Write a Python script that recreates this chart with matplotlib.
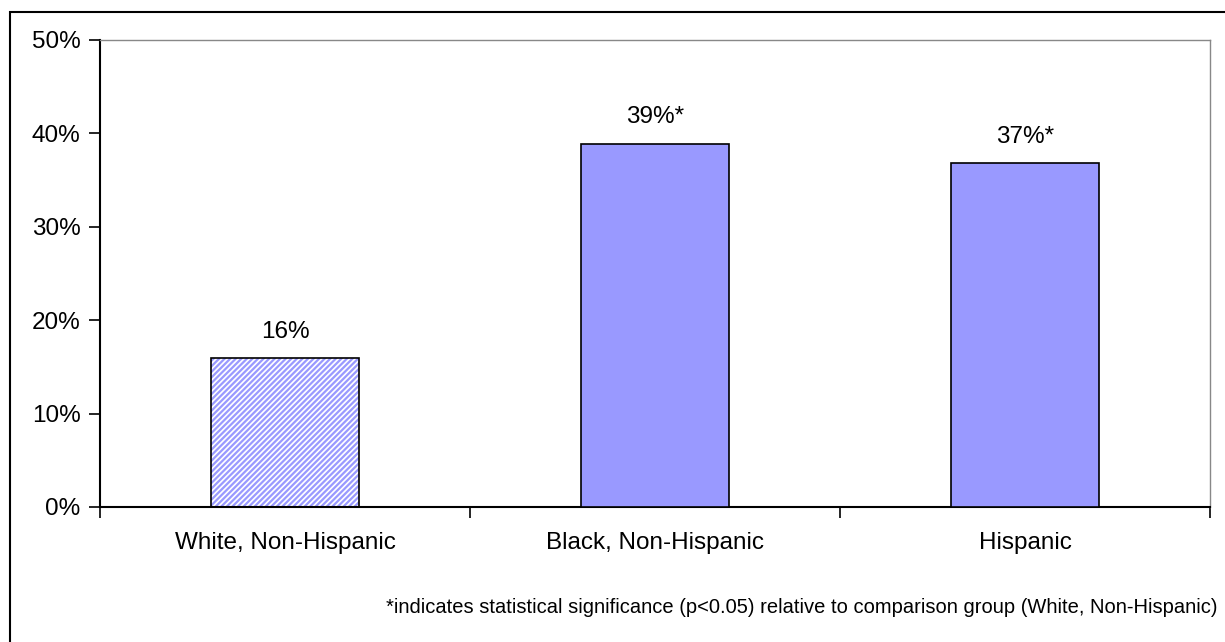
import numpy as np
import matplotlib.pyplot as plt
from matplotlib.patches import Rectangle

plt.rcParams['font.family'] = ['Liberation Sans', 'DejaVu Sans']
plt.rcParams['hatch.linewidth'] = 1.6

groups = ['White, Non-Hispanic', 'Black, Non-Hispanic', 'Hispanic']
pct = [15.9, 38.9, 36.8]
labels = ['16%', '39%*', '37%*']
note = '*indicates statistical significance (p<0.05) relative to comparison group (White, Non-Hispanic)'

bar_col = '#9999FF'

fig = plt.figure(figsize=(12.25, 6.42), dpi=100)
ax = fig.add_axes([0.0816, 0.2103, 0.9062, 0.7274])

x = np.arange(len(groups))
w = 0.4
# comparison group is hatched, the others solid
ax.bar(x[0], pct[0], w, color='white', edgecolor=bar_col, hatch='//////', linewidth=0, zorder=2)
ax.bar(x[0], pct[0], w, fill=False, edgecolor='black', linewidth=1.2, zorder=3)
ax.bar(x[1:], pct[1:], w, color=bar_col, edgecolor='black', linewidth=1.2, zorder=3)

for xi, v, t in zip(x, pct, labels):
    ax.annotate(t, (xi, v), xytext=(0, 11), textcoords='offset points',
                ha='center', va='bottom', fontsize=17.5)

ax.set_xlim(-0.5, 2.5)
ax.set_ylim(0, 50)
ax.set_yticks(np.arange(0, 51, 10))
ax.set_yticklabels([f'{v}%' for v in range(0, 51, 10)], fontsize=17.5)
ax.set_xticks(x)
ax.set_xticklabels(groups, fontsize=17.5)
ax.tick_params(axis='x', length=0, pad=18)
ax.set_xticks([-0.5, 0.5, 1.5, 2.5], minor=True)
ax.tick_params(axis='x', which='minor', length=8, width=1.2, direction='out')
ax.tick_params(axis='y', length=8, width=1.2, direction='out', pad=6)

for s in ['left', 'bottom']:
    ax.spines[s].set_linewidth(1.5)
for s in ['top', 'right']:
    ax.spines[s].set_color('#888888')
    ax.spines[s].set_linewidth(1.0)

fig.text(0.9935, 0.0545, note, ha='right', va='center', fontsize=14.5)

# outer chart frame
fig.patches.append(Rectangle((0.008, -0.05), 1.1, 1.031, transform=fig.transFigure,
                             fill=False, edgecolor='black', linewidth=1.5))

fig.savefig('out.png', dpi=100)
